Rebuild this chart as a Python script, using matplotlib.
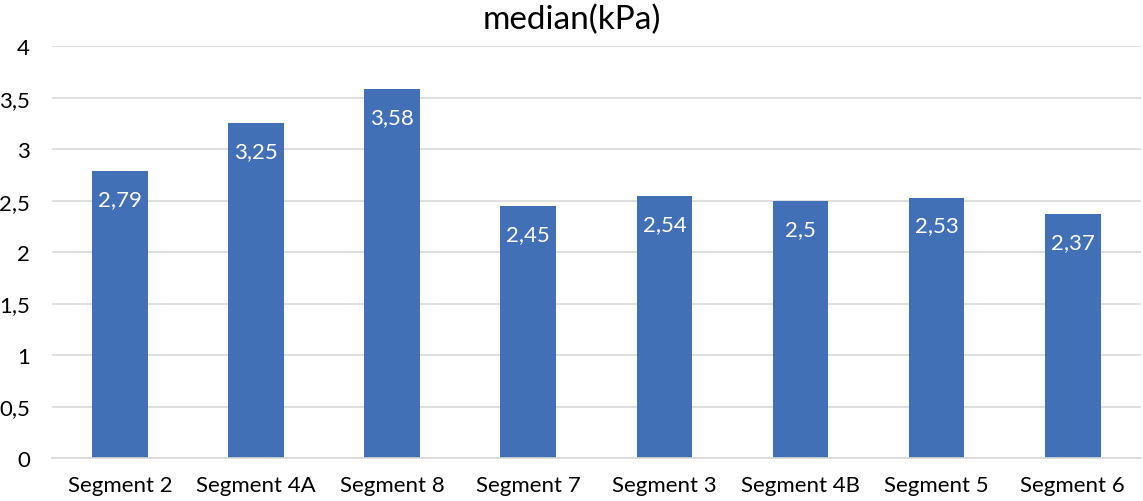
import matplotlib
matplotlib.use("Agg")
import matplotlib.pyplot as plt
from matplotlib.ticker import FuncFormatter

categories = ["Segment 2", "Segment 4A", "Segment 8", "Segment 7",
              "Segment 3", "Segment 4B", "Segment 5", "Segment 6"]
medians = [2.79, 3.25, 3.58, 2.45, 2.54, 2.5, 2.53, 2.37]
yticks = [0, 0.5, 1, 1.5, 2, 2.5, 3, 3.5, 4]


def comma(v):
    s = f"{v:g}"
    return s.replace(".", ",")


plt.rcParams['font.family'] = ['Lato', 'DejaVu Sans']

fig = plt.figure(figsize=(11.43, 5.02), dpi=100)
ax = fig.add_axes([0.0455, 0.0857, 0.9525, 0.8203])

x = range(len(categories))
bars = ax.bar(x, medians, width=0.41, color="#4270B6", zorder=2)

# value labels inside the top of each bar
for b, v in zip(bars, medians):
    ax.annotate(comma(v), (b.get_x() + b.get_width() / 2, v),
                xytext=(0, -28), textcoords="offset pixels",
                ha="center", va="center", color="white", fontsize=16)

ax.set_xlim(-0.5, len(categories) - 0.5)
ax.set_ylim(0, 4)
ax.set_yticks(yticks)
ax.yaxis.set_major_formatter(FuncFormatter(lambda v, p: comma(v)))
ax.set_xticks(list(x))
ax.set_xticklabels(categories)
ax.grid(axis="y", color="#D9D9D9", linewidth=1.2, zorder=0)
for s in ["top", "right", "left"]:
    ax.spines[s].set_visible(False)
ax.spines["bottom"].set_color("#D9D9D9")
ax.spines["bottom"].set_linewidth(1.2)
ax.tick_params(axis="both", length=0, labelsize=16, colors="#000000")
ax.tick_params(axis="x", pad=12)
ax.tick_params(axis="y", pad=16)
fig.text(0.5, 0.99, "median(kPa)", ha="center", va="top", fontsize=24)

fig.savefig("out.png", dpi=100)
